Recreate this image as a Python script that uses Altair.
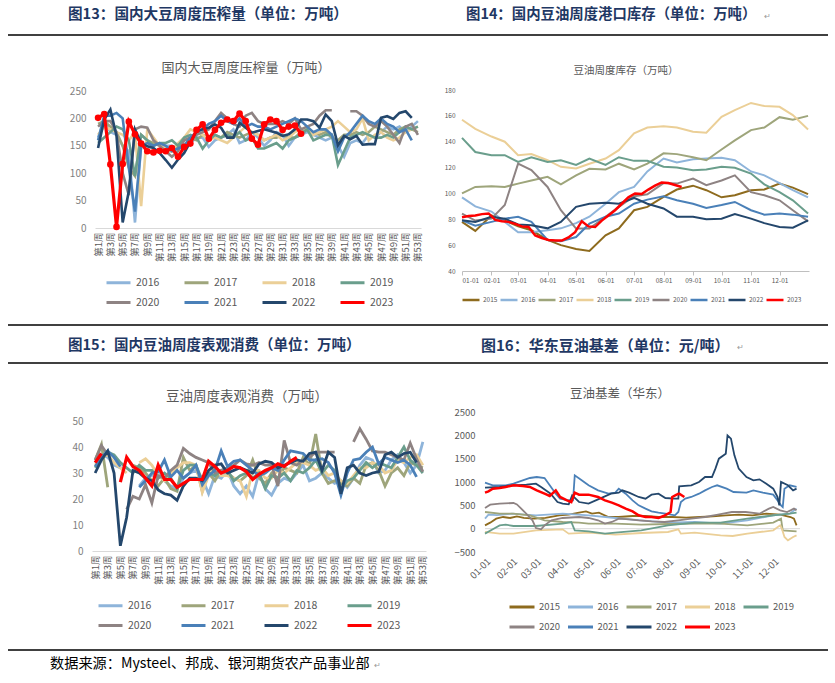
import altair as alt
import pandas as pd

FONT = "Noto Sans CJK SC"
W, H = 835, 683

YEARS = ["2015", "2016", "2017", "2018", "2019", "2020", "2021", "2022", "2023"]
COLORS = ["#8E6B1E", "#8EB4DA", "#9EA57B", "#EBCF97", "#6A9E8C", "#8E8383", "#4A80B8", "#24476C", "#FF0000"]

# ---------------- 图13 国内大豆周度压榨量（万吨），第1周..第53周
crush_2016 = [165, 195, 175, 170, 150, 140, 10, 150, 155, 150, 155, 150, 150, 145, 150, 155, 165, 165, 148, 160,
              165, 170, 180, 155, 160, 175, 165, 150, 160, 175, 170, 150, 165, 170, 175, 170, 165, 160, 165, 150,
              130, 155, 160, 155, 170, 165, 175, 185, 180, 185, 175, 185, 195]
crush_2017 = [190, 195, 185, 175, 150, 110, 95, 170, 160, 155, 150, 140, 140, 150, 160, 165, 160, 170, 165, 170,
              165, 175, 170, 165, 170, 175, 170, 160, 165, 165, 170, 165, 165, 175, 180, 175, 170, 175, 165, 160,
              170, 170, 175, 170, 175, 185, 180, 175, 170, 180, 185, 180, 175]
crush_2018 = [170, 185, 180, 175, 170, 160, 175, 40, 180, 165, 150, 145, 140, 155, 165, 180, 175, 170, 160, 165,
              160, 155, 165, 175, 185, 175, 170, 160, 165, 170, 160, 165, 175, 180, 185, 170, 175, 180, 185, 195,
              185, 175, 180, 200, 160, 170, 175, 165, 160, 165, 175, 180, 185]
crush_2019 = [155, 165, 175, 185, 180, 160, 95, 170, 160, 150, 155, 155, 160, 150, 165, 170, 165, 145, 160, 170,
              165, 170, 165, 175, 160, 165, 145, 145, 150, 155, 145, 160, 165, 170, 180, 160, 165, 170, 170, 115,
              140, 165, 170, 175, 170, 165, 165, 170, 165, 175, 185, 180, 185]
crush_2020 = [185, 195, 195, 175, 100, 60, 180, 185, 183, 160, 150, 140, 130, 140, 160, 165, 170, 175, 180, 195,
              210, 200, 190, 185, 205, 210, 195, 190, 190, 190, 195, 190, 200, 180, 185, 190, 205, 215, 215, None,
              None, 213, 213, 205, 190, 185, 195, 185, 170, 155, 185, 190, 170]
crush_2021 = [160, 205, 205, 210, 200, 110, 30, 150, 155, 150, 155, 150, 140, 145, 150, 165, 175, 180, 190, 195,
              205, 195, 190, 200, 185, 190, 185, 185, 180, 185, 190, 195, 200, 195, 185, 175, 180, 180, 170, 140,
              165, 175, 190, 205, 195, 190, 200, 190, 185, 175, 180, 160]
crush_2022 = [146, 198, 216, 168, 10, 67, 180, 155, 149, 146, 137, 124, 110, 125, 137, 157, 177, 180, 183, 189,
              183, 165, 165, 192, 183, 174, 177, 180, 177, 174, 168, 171, 180, 198, 198, 195, 183, 207, 195, 151,
              168, 162, 168, 152, 153, 153, 201, 204, 199, 210, 213, 201]
crush_2023 = [201, 208, 116, 2, 117, 194, 171, 154, 140, 138, 141, 140, 146, 130, 148, 154, 179, 189, 163, 179,
              192, 198, 195, 209, 195, 163, 152, 189, 198, 195, 179, 185, 187, 172]

# ---------------- 图14 豆油周度库存（万吨）
inv_dates = ["01-01", "01-15", "02-01", "02-15", "03-01", "03-15", "04-01", "04-15", "05-01", "05-15",
             "06-01", "06-15", "07-01", "07-15", "08-01", "08-15", "09-01", "09-15", "10-01", "10-15",
             "11-01", "11-15", "12-01", "12-15", "12-31"]
inv_2015 = [78, 71, 83, 79, 74.6, 71.5, 64, 60, 57, 55.5, 67.6, 73, 87, 89.6, 97.3, 103, 106, 102.5, 97, 98.6,
            102.5, 103, 107.6, 104.5, 99.4]
inv_2016 = [97, 90, 86, 78, 70, 70, 71.5, 73, 77, 82, 92, 101, 105, 117, 127, 124, 126.5, 127, 127.5, 125.7,
            117, 114, 108, 102.5, 97]
inv_2017 = [100, 105, 105.6, 105, 107.6, 110, 112.8, 107, 114, 119, 118.5, 123, 118.5, 123, 131, 130.4, 128,
            125.7, 134, 141, 149, 151, 159, 157, 160]
inv_2018 = [157, 150, 144, 140, 129.6, 130.4, 125.7, 120.6, 119.3, 123, 127, 133.5, 146.4, 151, 152, 151, 147.7,
            147, 159.3, 164.5, 170, 167.6, 167, 160.6, 149.5]
inv_2019 = [143, 132, 129.6, 129.6, 124.4, 128, 124.4, 125.7, 122, 127, 122, 128, 125.2, 125.2, 120.6, 120, 118,
            118.5, 120.6, 119.8, 115.4, 107, 101, 94.7, 84.4]
inv_2020 = [84.4, 79, 80.5, 91, 123, 118, 105, 87, 72.8, 72.8, 82, 89.6, 97.8, 99.4, 108, 107.6, 111.5, 106.4,
            110, 114, 101, 98.6, 94.7, 87, 78.4]
inv_2021 = [79.2, 75, 78, 80.5, 82, 78, 64, 63, 66.3, 76.6, 82, 84.4, 92, 95.2, 97.8, 94.7, 92, 88.8, 91, 93.4,
            87, 83.6, 84.4, 83.6, 82]
inv_2022 = [79.2, 78, 82, 80.5, 76, 75.3, 73, 78, 89.6, 92, 92.7, 92, 96.5, 92, 88.4, 82, 82, 80, 80.5, 84,
            80.5, 77, 74, 73.5, 79.2]
inv_2023_dates = ["01-01", "01-08", "01-15", "01-22", "01-29", "02-05", "02-12", "02-19", "02-26", "03-05",
                  "03-12", "03-19", "03-26", "04-02", "04-09", "04-16", "04-23", "04-30", "05-07", "05-14",
                  "05-21", "05-28", "06-04", "06-11", "06-18", "06-25", "07-02", "07-09", "07-16", "07-23",
                  "07-30", "08-06", "08-13", "08-20"]
inv_2023 = [81.5, 82.5, 83, 84, 84.5, 79.5, 78.5, 78, 76.5, 74.5, 74, 67.5, 65.5, 64, 63.5, 63.5, 66, 70, 78.5,
            74.5, 74, 79, 83, 87, 92, 97, 100, 99.5, 103, 106, 108.5, 108, 106.5, 105]

# ---------------- 图15 豆油周度表观消费（万吨）
cons_2016 = [34, 37, 36, 33, 32, 32, None, 25, 28, 29, 31, 27, 25, 24, 28, 30, 31, 28, 22, 29,
             28, 31, 25, 22, 25, 21, 30, 24, 21.5, 26, 28, 27, 30, 33, 27, 28, 30, 28, 26, 27,
             24.5, 28, 33, 36, 35, 30, 31, 35, 37, 34, 30, 33, 42]
cons_2017 = [35, 41, 24.5, None, None, None, 33, 32, 30, 27, 25, 28, 24, 23, 36, 31, 33, 23, 30, 27,
             31, 30, 28, 27, 29, 35, 28, 26, 30, 28, 32, 31, 30, 36, 33, 45, 30, 26, 27, 26,
             25, 28, 26, 33, 34, 31, 25, 30, 32, 29, 34, 33, 32]
cons_2018 = [33, 36, 37, 34, 32, 30, None, 34, 35.5, 33, 29, 27, 30, 32, 34, 34, 33, 22.5, 29, 33,
             29, 29, 28, 27, 21, 31, 31, 28, 28, 31, 30, 32, 34, 34, 33, 31, 32, 29, 30, 27,
             26, 29, 32, 32, 34, 33, 30, 31, 35, 34, 36, 37, 33]
cons_2019 = [32, 36, 38, 37, 34, 32, 30, 33, 31, 31, 28, 30, 28, 24, 31, 33, 33, 27, 30, 29,
             31, 31, 27, 29, 30, 28, 30, 24, 29, 28, 30, 27, 31, 30, 32, 35, 30, 33, 31, 24,
             27, 28, 31, 34, 32, 34, 33, 32, 36, 40, 35, 33, 30]
cons_2020 = [35, 40.5, 37, None, None, 16, 21, 20, 25.5, 18.5, 29, 28, 31, 33, 39.5, 37.5, 36, 35, 34, 30,
             31, 32, 33, 35, 33.5, 33, 34, 33, 33, 25, 42.5, 34, 33, 35, 36, 38, 38, 38, 38, None,
             None, 42, 47, 43, 38.5, 38, 38, 37, 36, 35, 41.5, 35.5, 30.5]
cons_2021 = [32.5, 36, 38.5, 36, 32.5, None, None, 24.5, 27, 30, 30.5, 35, 28.5, 31, 28, 30, 33, 25.5, 29, 31,
             38.5, 32.5, 34.5, 35, 33, 31, 29, 30, 32, 31, 35, 38.5, 38, 37.5, 35, 35, 35.5, 34, 30, 21.5,
             30, 35, 35.5, 38, 40, 33.5, 36, 35, 34, 35, 33, 28.5]
cons_2022 = [30, 35, 38.5, 30, 2, 13, 31, 30, 28, 27, 23.5, 22, 21.5, 19.5, 25, 28, 28, 27, 31, 33,
             33.5, 30, 31, 32, 31, 30, 33.5, 34.5, 34, 32, 33, 34, 35, 34.5, 37.5, 38, 31, 38, 36, 22,
             32, 33, 30, 29, 30, 30.5, 37, 38, 36, 37.5, 38, 34]
cons_2023 = [34, 37.5, None, None, 26.5, 36, 32.5, 31, 28, 25, 33, 27.5, 27.5, 24.5, 26, 27.5, 27.5, 27.5,
             34.5, 32.5, 30, 31, 32.5, 32, 30.5, 27.5, 29.5, 31, 32, 33.5, 32.5, 34.5, 36]

# ---------------- 图16 华东豆油基差（元/吨）
basis_2015_dates = ["01-01", "01-07", "01-14", "01-22", "01-30", "02-07", "02-15", "02-27", "03-12", "03-28",
                    "04-08", "04-20", "04-28", "05-05", "05-13", "05-24", "06-05", "06-21", "07-06", "07-21",
                    "08-06", "08-22", "09-07", "09-22", "10-07", "10-22", "11-07", "11-23", "12-09", "12-21",
                    "12-25", "12-28"]
basis_2015 = [71, 129, 214, 250, 229, 264, 229, 214, 229, 286, 300, 343, 371, 321, 343, 250, 250, 271, 271, 250,
              250, 236, 250, 264, 286, 300, 286, 321, 300, 250, 214, 71]
basis_2016_dates = ["01-01", "01-05", "01-15", "02-01", "03-01", "04-01", "05-01", "06-01", "07-01", "08-01",
                    "09-01", "10-01", "11-01", "12-01", "12-20", "12-28"]
basis_2016 = [214, 300, 290, 321, 286, 321, 286, 229, 179, 129, 143, 107, 179, 286, 321, 429]
basis_2017_dates = ["01-01", "01-18", "02-03", "02-22", "03-11", "04-01", "04-20", "05-01", "06-01", "07-01",
                    "08-01", "09-01", "10-01", "11-01", "12-01", "12-10", "12-12", "12-28"]
basis_2017 = [357, 321, 321, 286, 179, 143, 129, 107, 107, 86, 100, 107, 107, 71, 129, 214, -36, -57]
basis_2018_dates = ["01-01", "01-18", "02-03", "03-01", "04-01", "04-08", "05-01", "06-01", "07-01", "08-01",
                    "08-13", "08-16", "09-01", "10-01", "10-15", "11-01", "12-01", "12-09", "12-11", "12-14",
                    "12-18", "12-24", "12-28"]
basis_2018 = [-71, -107, -107, -36, -14, -107, -86, -129, -93, -71, -14, -107, -86, -143, -157, -107, -36, 71, 0,
              -179, -250, -179, -143]
basis_2019_dates = ["01-01", "01-10", "01-18", "01-25", "02-03", "03-01", "04-01", "04-11", "04-15", "05-01",
                    "05-20", "06-01", "07-01", "08-01", "09-01", "10-01", "11-01", "12-01", "12-20", "12-28"]
basis_2019 = [-107, -14, 71, 86, 57, 57, 107, 143, -36, -57, -107, -86, -36, 71, 129, 129, 214, 286, 321, 343]
basis_2020_dates = ["01-01", "01-07", "01-18", "02-03", "02-07", "02-16", "02-25", "03-01", "03-07", "03-11",
                    "03-19", "04-01", "04-20", "05-01", "05-12", "05-20", "05-28", "06-05", "06-17", "06-28",
                    "07-13", "07-28", "08-13", "08-28", "09-13", "09-28", "10-14", "10-30", "11-15", "11-26",
                    "12-01", "12-09", "12-17", "12-25", "12-28"]
basis_2020 = [443, 514, 536, 550, 520, 357, 179, 14, -14, 71, 179, 229, 250, 229, 179, 107, 143, 214, 200, 179,
              157, 143, 179, 214, 250, 300, 357, 357, 321, 429, 464, 393, 357, 429, 393]
basis_2021_dates = ["01-01", "01-10", "01-25", "02-03", "02-22", "03-02", "03-11", "03-17", "03-24", "03-29",
                    "04-08", "04-13", "04-15", "04-23", "05-01", "05-12", "05-24", "06-01", "06-05", "06-13",
                    "06-21", "06-28", "07-06", "07-13", "07-21", "07-29", "08-09", "08-13", "08-16", "08-21",
                    "08-28", "09-06", "09-13", "09-21", "09-27", "10-08", "10-16", "10-31", "11-08", "11-19",
                    "12-01", "12-06", "12-10", "12-12", "12-14", "12-20", "12-28"]
basis_2021 = [986, 929, 929, 964, 1086, 1107, 1086, 929, 750, 643, 607, 607, 1143, 1036, 929, 821, 750, 771, 857,
              750, 607, 500, 429, 371, 343, 321, 286, 357, 571, 643, 679, 750, 821, 893, 929, 857, 786, 771, 821,
              771, 729, 607, 500, 464, 857, 929, 893]
basis_2022_dates = ["01-01", "01-18", "02-03", "02-18", "03-01", "03-07", "03-18", "03-26", "04-01", "04-08",
                    "04-12", "04-20", "05-01", "05-12", "05-27", "06-05", "06-09", "06-17", "06-28", "07-06",
                    "07-13", "07-21", "07-29", "08-09", "08-13", "08-14", "08-28", "09-06", "09-13", "09-21",
                    "09-25", "09-29", "10-07", "10-09", "10-13", "10-17", "10-22", "10-31", "11-08", "11-15",
                    "11-23", "12-01", "12-06", "12-08", "12-10", "12-18", "12-24", "12-28"]
basis_2022 = [880, 893, 929, 943, 964, 893, 750, 571, 536, 521, 714, 571, 536, 629, 750, 771, 821, 771, 679, 643,
              729, 750, 657, 643, 643, 907, 929, 1000, 1107, 1107, 1286, 1500, 1607, 2000, 1929, 1571, 1286, 1107,
              1036, 1057, 964, 857, 679, 500, 1000, 929, 821, 857]
basis_2023_dates = ["01-01", "01-05", "01-10", "01-18", "01-25", "02-03", "02-14", "02-22", "03-02", "03-11",
                    "03-17", "03-24", "03-29", "04-06", "04-11", "04-15", "04-20", "05-01", "05-12", "05-20",
                    "05-28", "06-05", "06-13", "06-21", "06-28", "07-06", "07-13", "07-21", "07-27", "08-01",
                    "08-04", "08-06", "08-11", "08-14", "08-20"]
basis_2023 = [771, 800, 857, 871, 893, 929, 914, 893, 821, 750, 700, 821, 679, 607, 571, 771, 729, 729, 679, 607,
              557, 500, 429, 371, 286, 250, 250, 229, 271, 321, 357, 679, 729, 750, 679]


# ---------------- helpers to build long tables
def weekly_frame(series):
    rows = []
    for year, vals in series:
        assert len(vals) <= 53
        seg = 0
        for i, v in enumerate(vals):
            if v is None:
                seg += 1
                continue
            rows.append({"week": i + 1, "value": v, "year": year, "seg": f"{year}_{seg}"})
    return pd.DataFrame(rows)


def dated_frame(series):
    rows = []
    for year, dates, vals in series:
        assert len(dates) == len(vals), year
        for d, v in zip(dates, vals):
            rows.append({"date": f"2001-{d}T00:00:00", "value": v, "year": year})
    return pd.DataFrame(rows)


crush_df = weekly_frame([("2016", crush_2016), ("2017", crush_2017), ("2018", crush_2018), ("2019", crush_2019),
                         ("2020", crush_2020), ("2021", crush_2021), ("2022", crush_2022), ("2023", crush_2023)])
cons_df = weekly_frame([("2016", cons_2016), ("2017", cons_2017), ("2018", cons_2018), ("2019", cons_2019),
                        ("2020", cons_2020), ("2021", cons_2021), ("2022", cons_2022), ("2023", cons_2023)])
inv_df = dated_frame([("2015", inv_dates, inv_2015), ("2016", inv_dates, inv_2016), ("2017", inv_dates, inv_2017),
                      ("2018", inv_dates, inv_2018), ("2019", inv_dates, inv_2019), ("2020", inv_dates, inv_2020),
                      ("2021", inv_dates, inv_2021), ("2022", inv_dates, inv_2022),
                      ("2023", inv_2023_dates, inv_2023)])
basis_df = dated_frame([("2015", basis_2015_dates, basis_2015), ("2016", basis_2016_dates, basis_2016),
                        ("2017", basis_2017_dates, basis_2017), ("2018", basis_2018_dates, basis_2018),
                        ("2019", basis_2019_dates, basis_2019), ("2020", basis_2020_dates, basis_2020),
                        ("2021", basis_2021_dates, basis_2021), ("2022", basis_2022_dates, basis_2022),
                        ("2023", basis_2023_dates, basis_2023)])

MONTHS = [alt.DateTime(year=2001, month=m, date=1) for m in range(1, 13)]
T_DOMAIN = [alt.DateTime(year=2001, month=1, date=1), alt.DateTime(year=2002, month=1, date=1)]


def legend(x, y, cols, sym, sw, fs, col_pad, row_pad, lab_off):
    return alt.Legend(orient="none", legendX=x, legendY=y, direction="horizontal", columns=cols, title=None,
                      symbolType="stroke", symbolSize=sym * sym, symbolStrokeWidth=sw, labelFontSize=fs,
                      labelFont=FONT, labelColor="#595959", columnPadding=col_pad, rowPadding=row_pad,
                      labelOffset=lab_off, padding=0)


def weekly_panel(df, x_range, y_dom, y_range, y_vals, leg, sw, sw23, points=False):
    years = YEARS[1:]
    colors = COLORS[1:]
    x = alt.X("week:Q", scale=alt.Scale(domain=[0.5, 53.5], range=x_range, nice=False, zero=False),
              axis=alt.Axis(orient="bottom", offset=y_range[0] - H, values=list(range(1, 54, 2)),
                            labelExpr="'第' + datum.value + '周'", labelAngle=270, labelFontSize=9.5,
                            labelFont=FONT, labelColor="#595959", labelPadding=4, labelOverlap=False,
                            domainColor="#D9D9D9", domainWidth=1, ticks=False, grid=False, title=None))
    y = alt.Y("value:Q", scale=alt.Scale(domain=y_dom, range=y_range, nice=False, zero=False),
              axis=alt.Axis(orient="left", offset=-x_range[0], values=y_vals, labelFontSize=10, labelFont=FONT,
                            labelColor="#7F7F7F", labelPadding=9, domain=False, ticks=False, grid=False,
                            title=None))
    color = alt.Color("year:N", scale=alt.Scale(domain=years, range=colors), legend=leg)
    base = df[df["year"] != "2023"]
    red = df[df["year"] == "2023"]
    layers = [
        alt.Chart(base).mark_line(strokeWidth=sw).encode(x=x, y=y, color=color, detail="seg:N"),
        alt.Chart(red).mark_line(strokeWidth=sw23).encode(x=x, y=y, color=color, detail="seg:N"),
    ]
    if points:
        layers.append(alt.Chart(red).mark_circle(size=44, color="#FF0000", opacity=1).encode(x=x, y=y))
    return alt.layer(*layers)


def dated_panel(df, x_range, y_dom, y_range, y_vals, xaxis, yfs, ypad, leg, sw, sw23, zero_line=False):
    x = alt.X("date:T", scale=alt.Scale(domain=T_DOMAIN, range=x_range, nice=False), axis=xaxis)
    y = alt.Y("value:Q", scale=alt.Scale(domain=y_dom, range=y_range, nice=False, zero=False),
              axis=alt.Axis(orient="left", offset=-x_range[0], values=y_vals, format="d", labelFontSize=yfs,
                            labelFont=FONT, labelColor="#595959", labelPadding=ypad, domain=False, ticks=False,
                            grid=False, title=None))
    color = alt.Color("year:N", scale=alt.Scale(domain=YEARS, range=COLORS), legend=leg)
    base = df[df["year"] != "2023"]
    red = df[df["year"] == "2023"]
    layers = []
    if zero_line:
        layers.append(alt.Chart(pd.DataFrame({"value": [0]})).mark_rule(color="#D9D9D9", strokeWidth=1)
                      .encode(y=y, x=alt.value(x_range[0]), x2=alt.value(x_range[1])))
    layers.append(alt.Chart(base).mark_line(strokeWidth=sw).encode(x=x, y=y, color=color, detail="year:N"))
    layers.append(alt.Chart(red).mark_line(strokeWidth=sw23).encode(x=x, y=y, color=color))
    return alt.layer(*layers)


p1 = weekly_panel(crush_df, [95, 421], [0, 250], [228, 91], [0, 50, 100, 150, 200, 250],
                  legend(105, 269, 4, 24, 3, 10.5, 18, -7, 4), 2.6, 3.2, points=True)
p3 = weekly_panel(cons_df, [92, 426], [0, 50], [551, 421], [0, 10, 20, 30, 40, 50],
                  legend(97, 592, 4, 24, 3, 10.5, 23, -6, 4), 2.8, 3.2)

x_axis_inv = alt.Axis(orient="bottom", offset=271 - H, values=MONTHS, format="%m-%d", labelAngle=0,
                      labelFontSize=6.5, labelFont=FONT, labelColor="#595959", labelPadding=2,
                      domainColor="#BFBFBF", tickColor="#BFBFBF", ticks=True, tickSize=4, grid=False,
                      title=None, labelOverlap=False)
p2 = dated_panel(inv_df, [462, 809], [40, 180], [271, 90], [40, 60, 80, 100, 120, 140, 160, 180],
                 x_axis_inv, 6.5, 7, legend(461, 290, 9, 17, 2.5, 6.5, -3, 0, 2), 2.0, 2.5)

x_axis_basis = alt.Axis(orient="bottom", offset=552 - H, values=MONTHS, format="%m-%d", labelAngle=315,
                        labelFontSize=9.5, labelFont=FONT, labelColor="#595959", labelPadding=4,
                        domain=False, ticks=False, grid=False, title=None, labelOverlap=False)
p4 = dated_panel(basis_df, [485, 800], [-500, 2500], [552, 412], [-500, 0, 500, 1000, 1500, 2000, 2500],
                 x_axis_basis, 9.5, 10, legend(508, 593, 5, 25, 3, 9.5, 0.5, -1, 3), 1.8, 2.5, zero_line=True)

# ---------------- page decorations
BLANK = pd.DataFrame({"k": [0]})


def text_mark(txt, x, y, size, color, weight="normal", align="left"):
    return alt.Chart(BLANK).mark_text(text=txt, fontSize=size, color=color, fontWeight=weight, align=align,
                                      baseline="middle", font=FONT).encode(x=alt.value(x), y=alt.value(y))


def hrule(y):
    return alt.Chart(BLANK).mark_rule(color="#000000", strokeWidth=1.3).encode(
        x=alt.value(8), x2=alt.value(828), y=alt.value(y))


NAVY = "#1F3864"
deco = [
    hrule(35), hrule(325), hrule(363), hrule(650),
    text_mark("图13：国内大豆周度压榨量（单位：万吨）", 68, 15, 14.6, NAVY, "bold"),
    text_mark("图14：国内豆油周度港口库存（单位：万吨）", 466, 15, 14.4, NAVY, "bold"),
    text_mark("↵", 764, 17, 8, "#999999"),
    text_mark("图15：国内豆油周度表观消费（单位：万吨）", 68, 346, 14.5, NAVY, "bold"),
    text_mark("图16：华东豆油基差（单位：元/吨）", 481, 346, 15, NAVY, "bold"),
    text_mark("↵", 737, 348, 8, "#999999"),
    text_mark("数据来源：Mysteel、邦成、银河期货农产品事业部", 50, 664, 14.2, "#000000"),
    text_mark("↵", 374, 666, 8, "#999999"),
    text_mark("国内大豆周度压榨量（万吨）", 246, 68, 13, "#595959", align="center"),
    text_mark("豆油周度库存（万吨）", 626, 71, 10.5, "#595959", align="center"),
    text_mark("豆油周度表观消费（万吨）", 247, 397, 13.5, "#595959", align="center"),
    text_mark("豆油基差（华东）", 620, 394, 12.5, "#595959", align="center"),
]

chart = (
    alt.layer(p1, p2, p3, p4, *deco)
    .resolve_scale(x="independent", y="independent", color="independent")
    .properties(width=W, height=H, autosize=alt.AutoSizeParams(type="none"), padding=0, background="white")
    .configure_view(strokeWidth=0)
)

chart.save("out.html", embed_options={"renderer": "svg", "actions": False})
